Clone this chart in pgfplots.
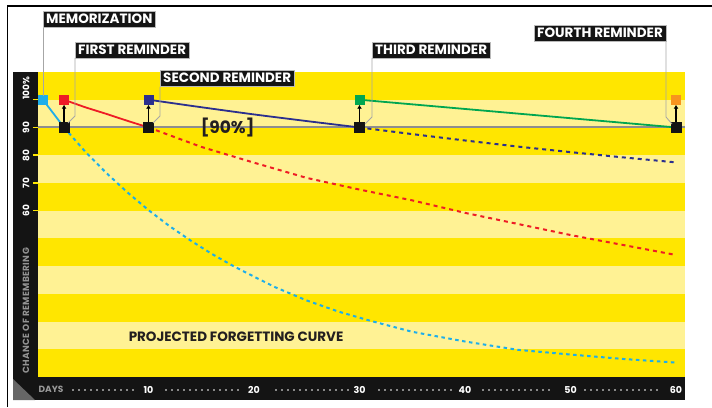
\documentclass[border=0pt]{standalone}
\usepackage{fontspec}
\setmainfont{Poppins}
\usepackage{pgfplots}
\pgfplotsset{compat=1.18}
\usepackage{pgfplotstable}
\usetikzlibrary{arrows.meta}

\definecolor{dkyel}{HTML}{FFE600}
\definecolor{ltyel}{HTML}{FFF294}
\definecolor{cyanc}{HTML}{1EAEEA}
\definecolor{redc}{HTML}{EE1C25}
\definecolor{navyc}{HTML}{2B2F8E}
\definecolor{greenc}{HTML}{00A650}
\definecolor{orangec}{HTML}{F7941E}
\definecolor{band}{HTML}{141414}
\definecolor{refline}{HTML}{8E8E8E}
\definecolor{ink}{HTML}{231F20}

\tikzset{
  callout/.style={fill=band, draw=gray!55, line width=0.4pt, text=white,
    font=\bfseries\fontsize{13.5}{13.5}\selectfont, inner xsep=3pt, inner ysep=0pt,
    minimum height=16pt, anchor=north west},
  leader/.style={draw=gray!70, line width=0.8pt}
}

% forgetting curve after memorization (day, % remembered)
\pgfplotstableread{
day val
2 90
4 81.3
6 73.6
8 66.6
10 60.2
12 54.4
14 49.2
16 44.4
18 40.1
20 36.2
22 32.4
25 27.6
28 23.6
31 20.3
35 16.3
40 12.8
45 9.8
50 8.1
55 6.5
60 5.2
}\cyandash

\begin{document}
\begin{tikzpicture}
\path[use as bounding box] (0,0) rectangle (712pt,407pt);

% frame and black bands, in picture pixels (y down)
\begin{scope}[x=1pt,y=-1pt,shift={(0pt,407pt)}]
  \draw[line width=1.4pt] (7.5,407) -- (7.5,6) -- (712,6);
  \fill[band] (13,72) rectangle (38,400);
  \fill[band] (13,377) rectangle (685,400);
  \fill[black!60] (13,379) -- (35,400) -- (13,400) -- cycle;
  \node[text=gray!85, rotate=90, font=\bfseries\fontsize{9}{9}\selectfont\addfontfeatures{LetterSpace=4}]
    at (26,311) {CHANCE OF REMEMBERING};
  \node[text=gray!80, font=\bfseries\fontsize{9}{9}\selectfont] at (51,389) {DAYS};
  \foreach \a/\b in {73/137,166/243,276/348,379/452,483/554,585/657}
    \draw[white, line width=1.8pt, line cap=round, dash pattern=on 0pt off 6pt] (\a,390) -- (\b,390);
\end{scope}

\begin{axis}[
    at={(38pt,30pt)}, anchor=south west,
    scale only axis, width=647pt, height=305pt,
    xmin=-0.47, xmax=60.85,
    ymin=0, ymax=110,
    clip=false,
    axis line style={draw=none},
    axis background/.style={fill=dkyel},
    xtick={10,20,30,40,50,60},
    ytick={60,70,80,90,100},
    yticklabels={60,70,80,90,\phantom{100\%}100\%},
    /pgf/number format/assume math mode=true,
    xtick style={draw=none},
    ytick style={draw=dkyel, line width=1.5pt},
    major tick length=5pt,
    tick align=outside,
    xtick pos=bottom, ytick pos=left,
    xticklabel style={text=white, font=\bfseries\fontsize{9.5}{9.5}\selectfont, anchor=center, yshift=-8pt},
    yticklabel style={text=white, font=\bfseries\fontsize{9}{9}\selectfont, xshift=-7pt, rotate=90, anchor=center},
]
% light stripes
\foreach \s in {10,30,50,70,90}{
  \edef\tmp{\noexpand\fill[ltyel] (axis cs:-0.47,\s) rectangle (axis cs:60.85,\s+10);}\tmp
}
% 90% reference line
\addplot[refline, line width=2pt] coordinates {(-0.47,90) (60.85,90)};

% projected forgetting curves
\addplot[cyanc, line width=2pt, dash pattern=on 3.5pt off 3.5pt] table[x=day,y=val] {\cyandash};
\addplot[redc, line width=2pt, dash pattern=on 4pt off 4pt] coordinates {
 (10,90) (15,83) (20,77.3) (25,71.8) (30,67.6) (35,63.7) (40,59.2) (45,55.2) (50,51.2) (55,47.6) (60,44)};
\addplot[navyc, line width=2pt, dash pattern=on 4pt off 4pt] coordinates {
 (30,90) (35,87.6) (40,85.3) (45,83.1) (50,81.1) (55,79.2) (60,77.4)};

% after each review
\addplot[cyanc, line width=1.8pt] coordinates {(0,100) (2,90)};
\addplot[redc, line width=1.8pt, smooth] coordinates {(2,100) (4,97.3) (6,94.9) (8,92.4) (10,90)};
\addplot[navyc, line width=1.8pt, smooth] coordinates {(10,100) (15,97.3) (20,94.7) (25,92.3) (30,90)};
\addplot[greenc, line width=1.8pt] coordinates {(30,100) (60,90)};

% arrows from 90% back to 100%
\foreach \d in {2,10,30,60}{
  \edef\tmp{\noexpand\addplot[black, line width=1.8pt, -{Latex[length=4pt,width=5pt]}] coordinates {(\d,91.8) (\d,98.2)};}\tmp
}

% squares
\addplot[only marks, mark=square*, mark size=5pt, mark options={fill=band, draw=band}] coordinates {(2,90) (10,90) (30,90) (60,90)};
\addplot[only marks, mark=square*, mark size=4.5pt, mark options={fill=cyanc, draw=cyanc}] coordinates {(0,100)};
\addplot[only marks, mark=square*, mark size=4.5pt, mark options={fill=redc, draw=redc}] coordinates {(2,100)};
\addplot[only marks, mark=square*, mark size=4.5pt, mark options={fill=navyc, draw=navyc}] coordinates {(10,100)};
\addplot[only marks, mark=square*, mark size=4.5pt, mark options={fill=greenc, draw=greenc}] coordinates {(30,100)};
\addplot[only marks, mark=square*, mark size=4.5pt, mark options={fill=orangec, draw=orangec}] coordinates {(60,100)};

\node[text=ink, font=\bfseries\fontsize{17}{17}\selectfont] at (axis cs:17.5,90) {[90\%]};
\node[text=ink, font=\bfseries\fontsize{13.5}{13.5}\selectfont] at (axis cs:18.3,14.5) {PROJECTED FORGETTING CURVE};
\end{axis}

% call-outs, in picture pixels (y down)
\begin{scope}[x=1pt,y=-1pt,shift={(0pt,407pt)}]
  \draw[leader] (43,27) -- (43,96);
  \draw[leader] (75,58) -- (75,116) -- (68,123);
  \draw[leader] (160,87) -- (160,116) -- (153,123);
  \draw[leader] (372,58) -- (372,117) -- (365,124);
  \draw[leader] (666,42) -- (666,117) -- (672,124);
  \node[callout] at (43,11) {MEMORIZATION};
  \node[callout] at (75,42) {FIRST REMINDER};
  \node[callout] at (160,70) {SECOND REMINDER};
  \node[callout] at (372,42) {THIRD REMINDER};
  \node[callout, anchor=north east] at (666,25) {FOURTH REMINDER};
\end{scope}
\end{tikzpicture}
\end{document}
